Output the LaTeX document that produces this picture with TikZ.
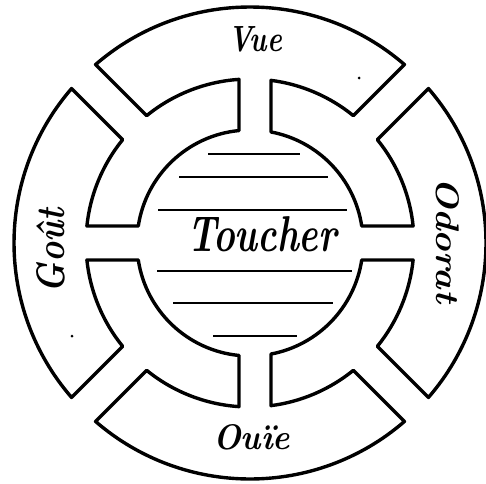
\documentclass[tikz,border=0pt]{standalone}
\usepackage{graphicx}
\tikzset{
  wheel/.style={line width=3.4pt, line join=round, line cap=round},
  rule/.style={line width=2.8pt, line cap=butt},
  lbl/.style={inner sep=0pt, outer sep=0pt},
}
\newcommand{\lab}[4]{\resizebox{#1pt}{#2pt}{\fontsize{#3}{#3}\selectfont\bfseries\itshape #4}}
\begin{document}
\begin{tikzpicture}[x=1pt,y=1pt]
\useasboundingbox (0,0) rectangle (486,483);
\fill[white] (0,0) rectangle (486,483);
\def\Ro{236}\def\Ri{164}\def\Rh{113}
\pgfmathsetmacro{\ao}{asin(17/236)}
\pgfmathsetmacro{\ai}{asin(17/164)}
\pgfmathsetmacro{\hs}{asin(17/164)}
\pgfmathsetmacro{\hh}{asin(17/113)}
\pgfmathsetmacro{\tRi}{acos(21/164)}
\pgfmathsetmacro{\tRh}{acos(21/113)}
\pgfmathsetmacro{\tLi}{acos(-11/164)}
\pgfmathsetmacro{\tLh}{acos(-11/113)}
\begin{scope}[shift={(250,240)}]
\coordinate (start) at (-45+\ao:\Ro);
\draw[wheel] (start)
  arc[start angle=-45+\ao, end angle=45-\ao, radius=\Ro]
  -- (45-\ai:\Ri) arc[start angle=45-\ai, end angle=\hs, radius=\Ri]
  -- (\hh:\Rh) arc[start angle=\hh, end angle=\tRh, radius=\Rh]
  -- (\tRi:\Ri) arc[start angle=\tRi, end angle=45+\ai, radius=\Ri]
  -- (45+\ao:\Ro)
  arc[start angle=45+\ao, end angle=135-\ao, radius=\Ro]
  -- (135-\ai:\Ri) arc[start angle=135-\ai, end angle=\tLi, radius=\Ri]
  -- (\tLh:\Rh) arc[start angle=\tLh, end angle=180-\hh, radius=\Rh]
  -- (180-\hs:\Ri) arc[start angle=180-\hs, end angle=135+\ai, radius=\Ri]
  -- (135+\ao:\Ro)
  arc[start angle=135+\ao, end angle=225-\ao, radius=\Ro]
  -- (225-\ai:\Ri) arc[start angle=225-\ai, end angle=180+\hs, radius=\Ri]
  -- (180+\hh:\Rh) arc[start angle=180+\hh, end angle=360-\tLh, radius=\Rh]
  -- (360-\tLi:\Ri) arc[start angle=360-\tLi, end angle=225+\ai, radius=\Ri]
  -- (225+\ao:\Ro)
  arc[start angle=225+\ao, end angle=315-\ao, radius=\Ro]
  -- (315-\ai:\Ri) arc[start angle=315-\ai, end angle=360-\tRi, radius=\Ri]
  -- (360-\tRh:\Rh) arc[start angle=360-\tRh, end angle=360-\hh, radius=\Rh]
  -- (360-\hs:\Ri) arc[start angle=360-\hs, end angle=315+\ai, radius=\Ri]
  -- cycle;
\end{scope}
% ruled lines inside the hub
\draw[rule] (208,329) -- (300,329);
\draw[rule] (179,306) -- (328,306);
\draw[rule] (158,273) -- (347,273);
\draw[rule] (157,212) -- (352,212);
\draw[rule] (173,180) -- (333,180);
\draw[rule] (213,147) -- (297,147);
% labels
\node[lbl] (toucher) at (262,248.5) {\lab{150}{35}{51}{Toucher}};
\node[lbl] (vue) at (255,443.5) {\lab{54}{25}{36}{Vue}};
\node[lbl] (ouie) at (251.5,45.5) {\lab{77}{25}{36}{Ouïe}};
\node[lbl, rotate=90] (gout) at (51,232.5) {\lab{85}{28}{36}{Goût}};
\node[lbl, rotate=-90] (odorat) at (447.5,243) {\lab{126}{23}{34}{Odorat}};
% specks
\fill (359,405) circle (1.5);
\fill (72,147) circle (1.5);
\end{tikzpicture}
\end{document}
